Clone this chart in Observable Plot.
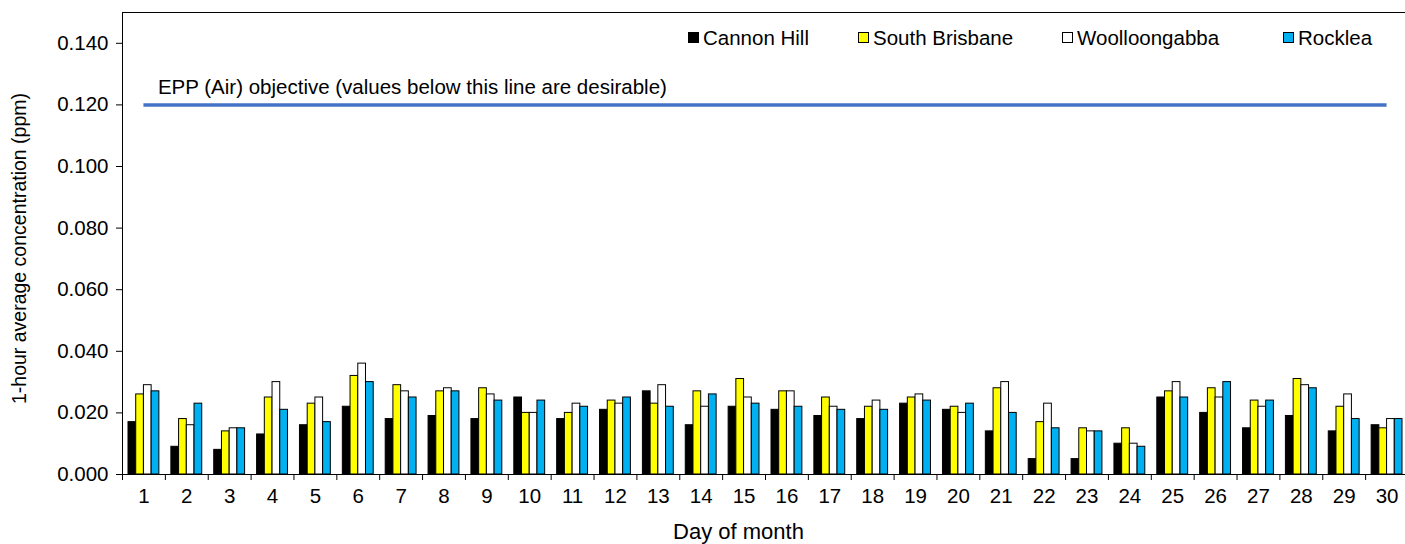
<!DOCTYPE html>
<html>
<head>
<meta charset="utf-8">
<script src="https://cdn.jsdelivr.net/npm/d3@7"></script>
<script src="https://cdn.jsdelivr.net/npm/@observablehq/plot@0.6"></script>
<style>
  html, body { margin: 0; padding: 0; background: #fff; overflow: hidden; }
  #chart { position: relative; width: 1405px; height: 544px; font-family: "Liberation Sans", Arial, sans-serif; }
  #chart svg { overflow: hidden; max-width: none; display: block; }
  .legend-item { position: absolute; top: 27px; display: flex; align-items: center; white-space: nowrap; font-size: 20.5px; color: #000; line-height: 21px; }
  .sw { width: 9px; height: 9px; border: 1px solid #000; margin-right: 4px; }
</style>
</head>
<body>
<div id="chart"></div>
<script>
const days = [1,2,3,4,5,6,7,8,9,10,11,12,13,14,15,16,17,18,19,20,21,22,23,24,25,26,27,28,29,30];
const sites = ["Cannon Hill", "South Brisbane", "Woolloongabba", "Rocklea"];
const siteColors = ["#000000", "#FFFF00", "#FFFFFF", "#00B0F0"];

const cannonHill    = [0.017,0.009,0.008,0.013,0.016,0.022,0.018,0.019,0.018,0.025,0.018,0.021,0.027,0.016,0.022,0.021,0.019,0.018,0.023,0.021,0.014,0.005,0.005,0.010,0.025,0.020,0.015,0.019,0.014,0.016];
const southBrisbane = [0.026,0.018,0.014,0.025,0.023,0.032,0.029,0.027,0.028,0.020,0.020,0.024,0.023,0.027,0.031,0.027,0.025,0.022,0.025,0.022,0.028,0.017,0.015,0.015,0.027,0.028,0.024,0.031,0.022,0.015];
const woolloongabba = [0.029,0.016,0.015,0.030,0.025,0.036,0.027,0.028,0.026,0.020,0.023,0.023,0.029,0.022,0.025,0.027,0.022,0.024,0.026,0.020,0.030,0.023,0.014,0.010,0.030,0.025,0.022,0.029,0.026,0.018];
const rocklea       = [0.027,0.023,0.015,0.021,0.017,0.030,0.025,0.027,0.024,0.024,0.022,0.025,0.022,0.026,0.023,0.022,0.021,0.021,0.024,0.023,0.020,0.015,0.014,0.009,0.025,0.030,0.024,0.028,0.018,0.018];

const objective = 0.120;
const objectiveLabel = "EPP (Air) objective (values below this line are desirable)";
const yTicks = [0, 0.02, 0.04, 0.06, 0.08, 0.10, 0.12, 0.14];
const yLabel = "1-hour average concentration (ppm)";
const xLabel = "Day of month";

const series = [cannonHill, southBrisbane, woolloongabba, rocklea];

// layout of the clustered bars within each day slot (fractions of a slot)
const groupPad = 0.14, barFrac = 0.18;
const table = [];
days.forEach((day, i) => {
  sites.forEach((site, k) => {
    const x1 = day - 0.5 + groupPad + k * barFrac;
    table.push({day, site, value: series[k][i], x1, x2: x1 + barFrac});
  });
});
const boundaries = days.map(d => d - 0.5).concat([days[days.length - 1] + 0.5]);

const chart = Plot.plot({
  width: 1405,
  height: 544,
  marginTop: 12,
  marginBottom: 70,
  marginLeft: 122,
  marginRight: -3,
  style: {fontFamily: '"Liberation Sans", Arial, sans-serif', fontSize: "20.5px", color: "#000", background: "#fff"},
  x: {type: "linear", domain: [0.5, 30.5]},
  y: {domain: [0, 0.15]},
  color: {domain: sites, range: siteColors},
  marks: [
    Plot.rect(table, {x1: "x1", x2: "x2", y1: 0, y2: "value", fill: "site", stroke: "#000", strokeWidth: 1}),
    Plot.ruleY([objective], {x1: days[0], x2: days[days.length - 1], stroke: "#4472C4", strokeWidth: 3.5}),
    Plot.text([objectiveLabel], {x: days[0], y: objective, textAnchor: "start", lineAnchor: "middle", dx: 14, dy: -17, fontSize: 20.5, fill: "#000"}),
    Plot.frame({stroke: "#000", strokeWidth: 1}),
    Plot.axisY(yTicks, {tickFormat: d3.format(".3f"), tickSize: 6, tickPadding: 8, label: null, fontSize: 20.5}),
    Plot.axisX(days, {tickSize: 0, tickPadding: 14, label: null, fontSize: 20.5}),
    Plot.axisX(boundaries, {tickSize: 6, tickFormat: () => "", label: null}),
    Plot.text([yLabel], {frameAnchor: "left", textAnchor: "middle", lineAnchor: "middle", rotate: -90, dx: -103, dy: 5, fontSize: 19.5, fill: "#000"}),
    Plot.text([xLabel], {frameAnchor: "bottom", textAnchor: "middle", lineAnchor: "middle", dy: 57, dx: -27, fontSize: 22, fill: "#000"})
  ]
});

const container = document.getElementById("chart");
container.appendChild(chart);

const legendLeft = [688, 858, 1062, 1283];
sites.forEach((site, k) => {
  const item = document.createElement("div");
  item.className = "legend-item";
  item.style.left = legendLeft[k] + "px";
  const sw = document.createElement("span");
  sw.className = "sw";
  sw.style.background = siteColors[k];
  const label = document.createElement("span");
  label.textContent = site;
  item.appendChild(sw);
  item.appendChild(label);
  container.appendChild(item);
});
</script>
</body>
</html>
